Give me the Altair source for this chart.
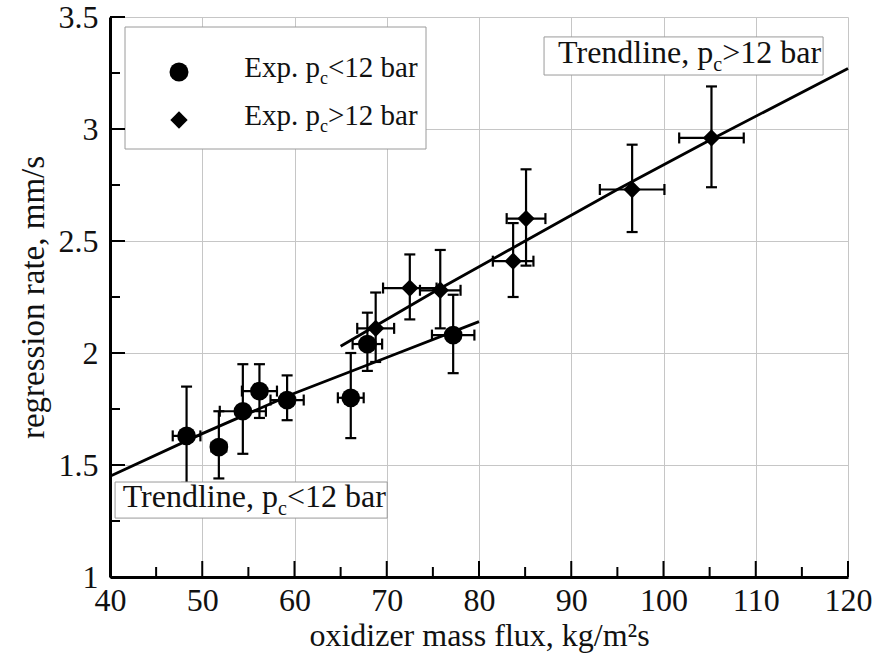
import altair as alt
import pandas as pd

FONT = "Liberation Serif"
INK = "#111111"
GRID = "#c6c6c6"

# Experiments with chamber pressure below 12 bar
low_flux = [48.3, 51.8, 54.4, 56.2, 59.2, 66.1, 67.9, 77.2]
low_flux_err = [1.5, 0.8, 2.5, 1.9, 1.8, 1.4, 1.6, 2.3]
low_rate = [1.63, 1.58, 1.74, 1.83, 1.79, 1.80, 2.04, 2.08]
low_rate_min = [1.42, 1.44, 1.55, 1.71, 1.70, 1.62, 1.92, 1.91]
low_rate_max = [1.85, 1.74, 1.95, 1.95, 1.90, 2.00, 2.18, 2.26]

# Experiments with chamber pressure above 12 bar
high_flux = [68.8, 72.5, 75.8, 83.7, 85.1, 96.6, 105.2]
high_flux_err = [2.0, 2.9, 2.2, 2.2, 2.1, 3.5, 3.5]
high_rate = [2.11, 2.29, 2.28, 2.41, 2.60, 2.73, 2.96]
high_rate_min = [1.96, 2.15, 2.11, 2.25, 2.39, 2.54, 2.74]
high_rate_max = [2.27, 2.44, 2.46, 2.58, 2.82, 2.93, 3.19]

# Trendlines
low_trend_flux = [40, 50, 60, 70, 80]
low_trend_rate = [1.45, 1.64, 1.82, 1.98, 2.14]
high_trend_flux = [65, 75, 85, 95, 105, 120]
high_trend_rate = [2.03, 2.27, 2.50, 2.73, 2.95, 3.27]

# Axis ticks
x_major = [40, 50, 60, 70, 80, 90, 100, 110, 120]
x_minor = [45, 55, 65, 75, 85, 95, 105, 115]
y_major = [1.0, 1.5, 2.0, 2.5, 3.0, 3.5]
y_minor = [1.25, 1.75, 2.25, 2.75, 3.25]

# Trendline captions: text is split around the subscript "c"
cap_x = [58.2, 105.4]
cap_y = [1.3125, 3.295]
cap_pre = ["Trendline, p", "Trendline, p"]
cap_post = ["<12 bar", ">12 bar"]
cap_box_x0 = [40.55, 87.05]
cap_box_x1 = [70.05, 117.3]
cap_box_y0 = [1.263, 3.241]
cap_box_y1 = [1.424, 3.411]

PLOT_W, PLOT_H = 738, 560

x_scale = alt.Scale(domain=[40, 120], nice=False, zero=False)
y_scale = alt.Scale(domain=[1, 3.5], nice=False, zero=False)

x_axis = alt.Axis(
    values=x_major, title="oxidizer mass flux, kg/m²s", grid=True,
    gridColor=GRID, gridWidth=1, domainColor="black", domainWidth=3,
    ticks=False, labelFont=FONT, labelFontSize=32, labelColor=INK,
    labelPadding=8, labelFlush=False, labelOverlap=False,
    titleFont=FONT, titleFontSize=32, titleFontWeight="normal",
    titleColor=INK, titlePadding=4,
)
y_axis = alt.Axis(
    values=y_major, format="~g", title="regression rate, mm/s", grid=True,
    gridColor=GRID, gridWidth=1, domainColor="black", domainWidth=3,
    ticks=False, labelFont=FONT, labelFontSize=32, labelColor=INK,
    labelPadding=12, labelFlush=False, labelOverlap=False,
    titleFont=FONT, titleFontSize=33, titleFontWeight="normal",
    titleColor=INK, titlePadding=8,
)


def X(field):
    return alt.X(field, type="quantitative", scale=x_scale, axis=x_axis)


def X2(field):
    return alt.X2(field)


def Y(field):
    return alt.Y(field, type="quantitative", scale=y_scale, axis=y_axis)


def Y2(field):
    return alt.Y2(field)


def frame(flux, flux_err, rate, rmin, rmax):
    df = pd.DataFrame({"flux": flux, "flux_err": flux_err, "rate": rate,
                       "rate_min": rmin, "rate_max": rmax})
    df["flux_min"] = df["flux"] - df["flux_err"]
    df["flux_max"] = df["flux"] + df["flux_err"]
    return df


low = frame(low_flux, low_flux_err, low_rate, low_rate_min, low_rate_max)
high = frame(high_flux, high_flux_err, high_rate, high_rate_min, high_rate_max)


def series_layers(df, shape, size):
    base = alt.Chart(df)
    bar_style = dict(ticks=True, size=11, thickness=2.2, color="black", opacity=1)
    vbar = base.mark_errorbar(**bar_style).encode(
        x=X("flux"), y=Y("rate_min"), y2=Y2("rate_max"))
    hbar = base.mark_errorbar(**bar_style).encode(
        y=Y("rate"), x=X("flux_min"), x2=X2("flux_max"))
    pts = base.mark_point(shape=shape, filled=True, size=size, color="black",
                          opacity=1).encode(x=X("flux"), y=Y("rate"))
    return [vbar, hbar, pts]


def trend(flux, rate):
    df = pd.DataFrame({"flux": flux, "rate": rate})
    return alt.Chart(df).mark_line(color="black", strokeWidth=2.8).encode(
        x=X("flux"), y=Y("rate"))


caps = pd.DataFrame({"xs": cap_x, "ys": cap_y, "pre": cap_pre,
                     "sub": ["c", "c"], "post": cap_post,
                     "bx0": cap_box_x0, "bx1": cap_box_x1,
                     "by0": cap_box_y0, "by1": cap_box_y1})
cap_base = alt.Chart(caps)
cap_boxes = cap_base.mark_rect(fill="white", stroke="#9a9a9a", strokeWidth=1).encode(
    x=X("bx0"), x2=X2("bx1"), y=Y("by0"), y2=Y2("by1"))
cap_pre_t = cap_base.mark_text(align="right", baseline="alphabetic", font=FONT,
                               fontSize=32, color=INK).encode(
    x=X("xs"), y=Y("ys"), text="pre:N")
cap_sub_t = cap_base.mark_text(align="left", baseline="alphabetic", font=FONT,
                               fontSize=20, dy=8, color=INK).encode(
    x=X("xs"), y=Y("ys"), text="sub:N")
cap_post_t = cap_base.mark_text(align="left", baseline="alphabetic", font=FONT,
                                fontSize=32, dx=9, color=INK).encode(
    x=X("xs"), y=Y("ys"), text="post:N")

# Legend panel (pixel layout inside the plot area)
legend_rows = [("circle", 360, "<12 bar", 55), ("diamond", 300, ">12 bar", 103)]
one = pd.DataFrame({"k": [0]})
legend_layers = [
    alt.Chart(one).mark_rect(fill="white", stroke="#9a9a9a", strokeWidth=1).encode(
        x=alt.value(15), x2=alt.value(316), y=alt.value(10), y2=alt.value(132))
]
for shape, size, post, cy in legend_rows:
    legend_layers.append(
        alt.Chart(one).mark_point(shape=shape, filled=True, size=size, color="black",
                                  opacity=1).encode(x=alt.value(69), y=alt.value(cy)))
    legend_layers.append(
        alt.Chart(one).mark_text(align="right", baseline="alphabetic", font=FONT,
                                 fontSize=29, color=INK, text="Exp. p").encode(
            x=alt.value(210), y=alt.value(cy + 5)))
    legend_layers.append(
        alt.Chart(one).mark_text(align="left", baseline="alphabetic", font=FONT,
                                 fontSize=18, color=INK, text="c").encode(
            x=alt.value(210), y=alt.value(cy + 12)))
    legend_layers.append(
        alt.Chart(one).mark_text(align="left", baseline="alphabetic", font=FONT,
                                 fontSize=29, color=INK, text=post).encode(
            x=alt.value(218), y=alt.value(cy + 5)))

# Inward tick marks
def xticks(vals, length):
    return alt.Chart(pd.DataFrame({"v": vals})).mark_rule(
        color="black", strokeWidth=2).encode(
        x=X("v"), y=alt.value(PLOT_H), y2=alt.value(PLOT_H - length))


def yticks(vals, length):
    return alt.Chart(pd.DataFrame({"v": vals})).mark_rule(
        color="black", strokeWidth=2).encode(
        y=Y("v"), x=alt.value(0), x2=alt.value(length))


layers = (
    [trend(low_trend_flux, low_trend_rate), trend(high_trend_flux, high_trend_rate)]
    + series_layers(low, "circle", 350)
    + series_layers(high, "diamond", 300)
    + [cap_boxes, cap_pre_t, cap_sub_t, cap_post_t]
    + legend_layers
    + [xticks(x_major, 16), xticks(x_minor, 10), yticks(y_major, 15), yticks(y_minor, 10)]
)

chart = alt.layer(*layers).properties(
    width=PLOT_W, height=PLOT_H,
    autosize=alt.AutoSizeParams(type="none"),
    padding={"left": 110, "top": 17, "right": 28, "bottom": 83},
    background="white",
).configure_view(stroke=None)

chart.save("out.html", embed_options={"renderer": "svg", "actions": False})
